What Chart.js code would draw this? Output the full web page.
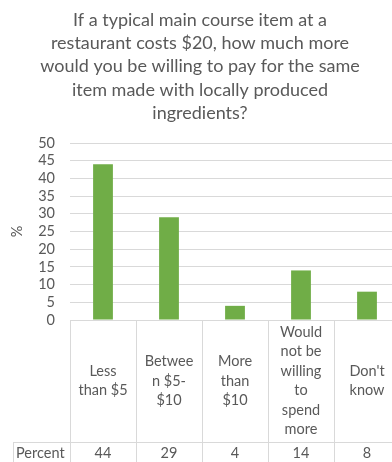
<!DOCTYPE html>
<html>
<head>
<meta charset="utf-8">
<script src="https://cdn.jsdelivr.net/npm/chart.js"></script>
<style>
  html, body { margin: 0; padding: 0; background: #fff; overflow: hidden; }
  #wrap { width: 408px; height: 462px; }
</style>
</head>
<body>
<div id="wrap"><canvas id="chart" width="408" height="462"></canvas></div>
<script>
// survey answers
const categories = ['Less than $5', 'Between $5-$10', 'More than $10', 'Would not be willing to spend more', "Don't know"];
// wrapped text as it sits in the data table cells
const categoryLines = [
    ['Less', 'than $5'],
    ['Betwee', 'n $5-', '$10'],
    ['More', 'than', '$10'],
    ['Would', 'not be', 'willing', 'to', 'spend', 'more'],
    ["Don't", 'know']
];
const percents = [44, 29, 4, 14, 8];
const seriesName = 'Percent';
const titleLines = [
    'If a typical main course item at a',
    'restaurant costs $20, how much more',
    'would you be willing to pay for the same',
    'item made with locally produced',
    'ingredients?'
];

const FONT = 'Lato, "Open Sans", sans-serif';
const TEXT = '#595959';
const LINE = '#d9d9d9';

// data table under the plot (category row + value row)
const dataTable = {
    id: 'dataTable',
    afterDraw(chart) {
        const { ctx, chartArea } = chart;
        const x = chart.scales.x;
        const half = (x.getPixelForValue(1) - x.getPixelForValue(0)) / 2;
        const top = chartArea.bottom;
        const rowY = top + 122;
        const bottom = chart.height;
        const headerLeft = 13;

        ctx.save();
        ctx.strokeStyle = LINE;
        ctx.lineWidth = 1;
        ctx.beginPath();
        // column borders
        for (let i = 0; i <= categories.length; i++) {
            const px = Math.round(x.getPixelForValue(i) - half) + 0.5;
            ctx.moveTo(px, top);
            ctx.lineTo(px, bottom);
        }
        // row separator and header cell
        ctx.moveTo(headerLeft + 0.5, rowY + 0.5);
        ctx.lineTo(chartArea.right, rowY + 0.5);
        ctx.moveTo(headerLeft + 0.5, rowY);
        ctx.lineTo(headerLeft + 0.5, bottom);
        ctx.stroke();

        ctx.fillStyle = TEXT;
        ctx.font = '14.5px ' + FONT;
        ctx.textAlign = 'center';
        ctx.textBaseline = 'middle';
        const lh = 19.5;
        const midY = (top + rowY) / 2;
        categoryLines.forEach((lines, i) => {
            const cx = x.getPixelForValue(i);
            const y0 = midY - (lines.length - 1) * lh / 2;
            lines.forEach((t, j) => ctx.fillText(t, cx, y0 + j * lh));
        });
        const valY = rowY + 11;
        percents.forEach((v, i) => ctx.fillText(String(v), x.getPixelForValue(i), valY));
        ctx.textAlign = 'left';
        ctx.fillText(seriesName, headerLeft + 3, valY);
        ctx.restore();
    }
};

new Chart(document.getElementById('chart'), {
    type: 'bar',
    data: {
        labels: categories,
        datasets: [{
            label: seriesName,
            data: percents,
            backgroundColor: '#70ad47',
            borderWidth: 0,
            barPercentage: 0.3,
            categoryPercentage: 1
        }]
    },
    options: {
        responsive: false,
        animation: false,
        layout: { padding: { left: 0, right: 8, top: 0, bottom: 0 } },
        plugins: {
            legend: { display: false },
            tooltip: { enabled: false },
            title: {
                display: true,
                text: titleLines,
                color: TEXT,
                font: { family: FONT, size: 18, weight: 'normal', lineHeight: 1.3 },
                padding: { top: 8, bottom: 18 }
            }
        },
        scales: {
            x: {
                grid: { display: false },
                border: { display: false },
                ticks: { display: false },
                afterFit(scale) { scale.height = 142; }
            },
            y: {
                min: 0,
                max: 50,
                ticks: {
                    stepSize: 5,
                    autoSkip: false,
                    color: TEXT,
                    padding: 15,
                    font: { family: FONT, size: 14.5 }
                },
                grid: { color: LINE, drawTicks: false },
                border: { display: false },
                title: {
                    display: true,
                    text: '%',
                    color: TEXT,
                    font: { family: FONT, size: 14.5 },
                    padding: { top: 9, bottom: 0 }
                },
                afterFit(scale) { scale.width = 70; }
            }
        }
    },
    plugins: [dataTable]
});
</script>
</body>
</html>
